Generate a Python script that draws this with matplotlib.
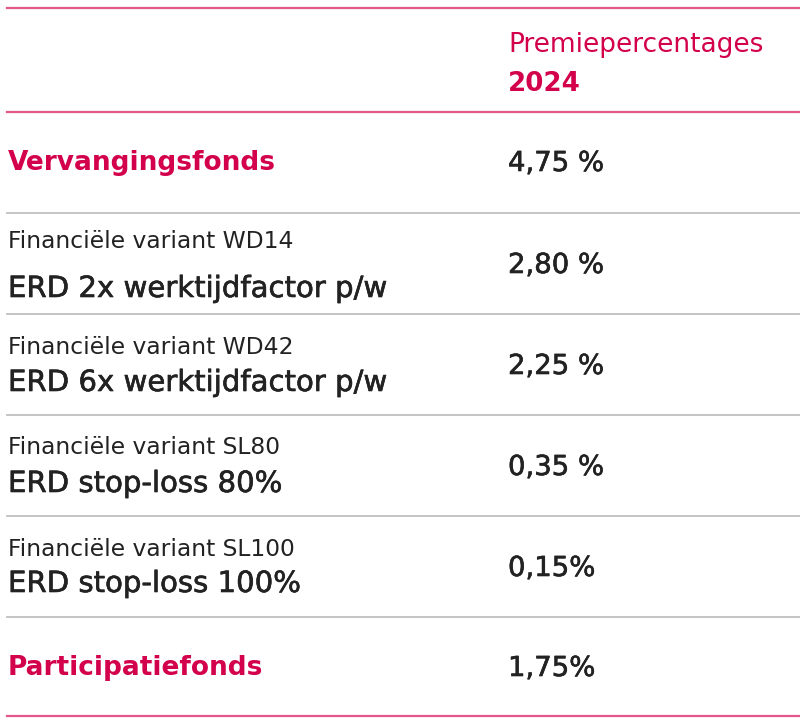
import matplotlib
matplotlib.use("Agg")
import matplotlib.pyplot as plt
import matplotlib.patheffects as pe

header_top = "Premiepercentages"
header_year = "2024"
fund_top = "Vervangingsfonds"
fund_top_value = "4,75 %"
variant_labels = ["Financiële variant WD14", "Financiële variant WD42",
                  "Financiële variant SL80", "Financiële variant SL100"]
variant_names = ["ERD 2x werktijdfactor p/w", "ERD 6x werktijdfactor p/w",
                 "ERD stop-loss 80%", "ERD stop-loss 100%"]
variant_values = ["2,80 %", "2,25 %", "0,35 %", "0,15%"]
fund_bottom = "Participatiefonds"
fund_bottom_value = "1,75%"

CRIMSON = "#D3004C"
PINK_LINE = "#E4578A"
GRAY_LINE = "#BFBFBF"
DARK = "#222222"
FONT = "DejaVu Sans"

medium = [pe.withStroke(linewidth=0.45, foreground=DARK)]

fig = plt.figure(figsize=(8, 7.27), dpi=100)
ax = fig.add_axes([0, 0, 1, 1])
ax.set_xlim(0, 800)
ax.set_ylim(727, 0)
ax.axis("off")

x0, x1 = 7, 800
xl, xv = 8, 508

# lines
ax.plot([x0, x1], [8, 8], color=PINK_LINE, lw=1.6)
ax.plot([x0, x1], [112, 112], color=PINK_LINE, lw=1.6)
ax.plot([x0, x1], [716, 716], color=PINK_LINE, lw=1.6)
row_lines = [213, 314, 415, 516, 617]
for y in row_lines:
    ax.plot([x0, x1], [y, y], color=GRAY_LINE, lw=1.3)

# header
ax.text(xv, 45, header_top, color=CRIMSON, fontsize=19, family=FONT,
        va="center", ha="left")
ax.text(xv, 84, header_year, color=CRIMSON, fontsize=18.8, family=FONT,
        fontweight="bold", va="center", ha="left")

# top fund
ax.text(xl, 163, fund_top, color=CRIMSON, fontsize=19, family=FONT,
        fontweight="bold", va="center", ha="left")
ax.text(xv, 163, fund_top_value, color=DARK, fontsize=19.8, family=FONT,
        va="center", ha="left", path_effects=medium)

# variants
label_y = [241, 347, 448, 549]
name_y = [289, 383, 484, 584]
value_y = [265, 366, 467, 568]
for lab, name, val, ly, ny, vy in zip(variant_labels, variant_names, variant_values,
                                       label_y, name_y, value_y):
    ax.text(xl, ly, lab, color=DARK, fontsize=16.8, family=FONT,
            va="center", ha="left")
    ax.text(xl, ny, name, color=DARK, fontsize=21, family=FONT,
            va="center", ha="left", path_effects=medium)
    ax.text(xv, vy, val, color=DARK, fontsize=19.8, family=FONT,
            va="center", ha="left", path_effects=medium)

# bottom fund
ax.text(xl, 668, fund_bottom, color=CRIMSON, fontsize=19, family=FONT,
        fontweight="bold", va="center", ha="left")
ax.text(xv, 668, fund_bottom_value, color=DARK, fontsize=19.8, family=FONT,
        va="center", ha="left", path_effects=medium)

fig.savefig("out.png", dpi=100, facecolor="white")
